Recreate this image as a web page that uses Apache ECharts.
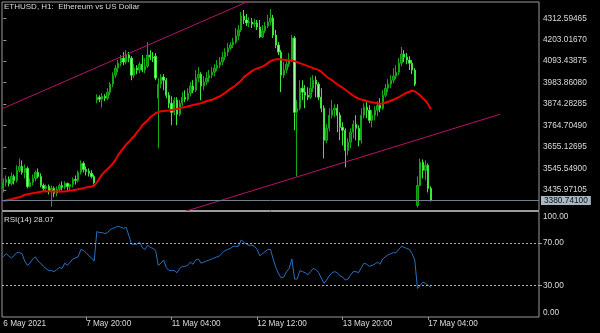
<!DOCTYPE html>
<html><head><meta charset="utf-8">
<script src="https://cdn.jsdelivr.net/npm/echarts@6/dist/echarts.min.js"></script>
<style>html,body{margin:0;padding:0;background:#000;}#c{width:600px;height:333px;}</style>
</head><body><div id="c"></div>
<script>
// ---- data (ETHUSD H1) ----
const opens = [
3443,3473,3489,3468,3504,3484,3535,3555,3525,3545,
3453,3473,3494,3525,3504,3458,3443,3453,3427,3443,
3417,3438,3458,3448,3468,3453,3463,3489,3484,3525,
3571,3540,3530,3520,3504,3894,3909,3899,3914,3904,
3935,3976,4022,4058,4083,4109,4089,4125,4109,4022,
4058,4048,4078,4048,4068,4125,4114,4119,3904,3976,
4012,3996,3919,3878,3832,3894,3822,3878,3909,3899,
3930,3966,3945,4007,4027,3966,3986,4007,4022,4037,
4058,4073,4089,4114,4140,4160,4176,4191,4222,4253,
4324,4304,4289,4294,4283,4289,4268,4217,4248,4273,
4294,4314,4227,4176,4140,4022,4048,4078,4099,4212,
3832,3853,3955,3935,3919,3909,3955,3996,3976,3909,
3853,3689,3750,3817,3843,3853,3817,3755,3740,3637,
3679,3730,3771,3750,3689,3817,3858,3843,3791,3817,
3843,3868,3853,3919,3955,3976,3996,4017,4037,4083,
4130,4114,4099,4083,4048,3355,3458,3576,3535,3561,
3443];
const closes = [
3473,3489,3468,3504,3484,3535,3555,3525,3545,3453,
3473,3494,3525,3504,3458,3443,3453,3427,3443,3417,
3438,3458,3448,3468,3453,3463,3489,3484,3525,3571,
3540,3530,3520,3504,3473,3909,3899,3914,3904,3935,
3976,4022,4058,4083,4109,4089,4125,4109,4022,4058,
4048,4078,4048,4068,4125,4114,4109,4007,3976,4012,
3996,3919,3878,3832,3894,3822,3878,3909,3899,3930,
3966,3945,4007,4027,3966,3986,4007,4022,4037,4058,
4073,4089,4114,4140,4160,4176,4191,4222,4253,4324,
4304,4289,4294,4283,4289,4268,4217,4248,4273,4294,
4314,4227,4176,4140,4022,4048,4078,4099,4212,3832,
3853,3955,3935,3919,3909,3955,3996,3976,3909,3853,
3689,3750,3817,3843,3853,3817,3755,3740,3637,3679,
3730,3771,3750,3689,3817,3858,3843,3791,3817,3843,
3868,3853,3919,3955,3976,3996,4017,4037,4083,4130,
4114,4099,4083,4048,3976,3458,3576,3535,3561,3443,
3380.741];
const highs = [
3494,3509,3504,3525,3514,3561,3596,3586,3566,3555,
3494,3514,3535,3545,3520,3468,3463,3463,3458,3453,
3453,3468,3479,3479,3473,3468,3499,3509,3535,3586,
3581,3555,3545,3535,3514,3924,3919,3930,3925,3955,
3986,4037,4073,4099,4125,4140,4150,4140,4119,4078,
4073,4089,4125,4109,4191,4150,4140,4135,4007,4027,
4027,4007,3935,3914,3909,3909,3894,3935,3945,3955,
3986,3996,4048,4063,4037,4017,4037,4048,4063,4078,
4099,4114,4140,4160,4186,4191,4212,4263,4278,4345,
4355,4335,4319,4314,4309,4304,4304,4278,4294,4330,
4360,4330,4253,4191,4150,4089,4099,4135,4227,4222,
3894,3996,3996,3971,3960,4012,4022,4017,3986,3955,
3868,3771,3853,3894,3873,3873,3832,3781,3750,3699,
3750,3791,3817,3766,3853,3878,3884,3868,3843,3863,
3889,3904,3945,3976,4001,4022,4058,4073,4109,4166,
4150,4135,4119,4099,4058,3504,3596,3591,3586,3571,
3453];
const lows = [
3422,3453,3453,3458,3463,3473,3525,3514,3494,3443,
3448,3458,3479,3494,3448,3427,3422,3412,3350,3397,
3402,3422,3432,3438,3432,3432,3448,3463,3473,3514,
3525,3509,3504,3494,3463,3878,3884,3858,3889,3894,
3919,3960,4007,4037,4068,4073,4078,4089,3996,4007,
4027,4032,4037,4032,4058,4099,4089,3996,3648,3955,
3945,3904,3853,3766,3817,3766,3812,3863,3884,3889,
3914,3930,3935,3986,3894,3945,3971,3986,4007,4017,
4042,4058,4073,4099,4119,4150,4160,4181,4201,4242,
4283,4273,4268,4263,4268,4253,4212,4212,4237,4263,
4278,4212,4160,4125,3935,4007,4032,4063,4089,3740,
3504,3843,3894,3853,3894,3899,3935,3909,3894,3832,
3596,3673,3735,3802,3807,3730,3689,3663,3550,3612,
3648,3699,3689,3658,3673,3802,3802,3776,3755,3791,
3812,3832,3843,3909,3935,3955,3981,4001,4022,4068,
4089,4078,4048,4027,3966,3345,3453,3494,3484,3422,
3376];
const maValues = [
3378.6,3381.1,3384.7,3387.8,3391.4,3395.0,3397.5,3402.6,3410.8,3412.9,
3415.5,3418.0,3420.1,3423.2,3426.2,3428.8,3428.3,3427.8,3427.3,3427.3,
3427.3,3427.3,3427.3,3427.3,3429.3,3431.9,3433.9,3436.5,3439.1,3441.6,
3444.2,3447.3,3449.8,3452.9,3457.0,3473.4,3493.9,3514.4,3529.8,3542.6,
3555.4,3570.8,3588.7,3614.4,3632.3,3650.3,3668.2,3681.0,3696.4,3709.2,
3729.7,3745.1,3765.6,3778.4,3791.2,3806.6,3816.9,3827.1,3833.3,3837.4,
3838.4,3839.9,3841.5,3844.0,3846.6,3849.7,3852.8,3856.3,3858.9,3862.0,
3865.6,3869.2,3872.2,3875.8,3878.4,3883.5,3888.6,3892.2,3896.3,3901.5,
3907.6,3913.2,3922.0,3932.2,3942.5,3951.7,3960.4,3970.7,3983.5,3993.7,
4011.7,4021.9,4032.2,4042.4,4050.1,4056.3,4060.4,4066.5,4073.2,4083.4,
4093.7,4098.8,4102.9,4103.9,4102.4,4100.9,4098.8,4097.8,4096.8,4093.7,
4088.6,4083.4,4078.3,4073.2,4068.1,4062.9,4057.8,4052.7,4047.6,4039.9,
4027.0,4014.2,4004.0,3996.3,3986.0,3975.8,3965.5,3957.8,3947.6,3937.3,
3927.1,3916.8,3908.1,3901.5,3897.4,3893.8,3889.7,3886.1,3883.5,3880.9,
3878.4,3875.8,3877.4,3880.9,3886.1,3891.2,3896.3,3903.0,3909.1,3916.8,
3924.5,3932.2,3937.3,3942.5,3939.9,3929.6,3919.4,3904.0,3891.2,3873.3,
3847.6];
const rsiValues = [
57,60,58,56,58,61,61,60,53,49,
51,55,57,53,51,48,46,44,44,43,
45,47,46,51,49,52,55,56,57,64,
63,61,58,56,53,81,80,80,79,80,
83,84,85,86,85,84,85,77,69,69,
69,71,66,64,68,66,65,63,49,51,
54,47,44,44,44,42,46,48,48,49,
52,50,54,55,51,52,53,54,55,56,
57,58,61,63,64,65,67,67,67,73,
71,69,68,68,67,64,58,60,62,64,
64,55,47,41,37,38,43,46,55,36,
36,44,43,42,40,43,46,45,42,37,
32,35,39,42,43,42,39,38,35,36,
40,43,43,42,47,51,50,48,49,50,
52,50,55,57,59,60,61,61,64,67,
66,65,64,60,54,27,30,33,32,30,
28.07];
const priceTicks = [3435.97105,3545.54900,3655.12695,3764.70490,3874.28285,3983.86080,4093.43875,4203.01670,4312.59465];
const rsiTicks = [0,30,70,100];
const rsiLevels = [30,70];
const xTickIndex = [0,31,63,95,127,159];
const xTickText = ['6 May 2021','7 May 20:00','11 May 04:00','12 May 12:00','13 May 20:00','17 May 04:00'];
const upperTrend = [[-0.5,3850.2],[93.1,4407.9]];
const lowerTrend = [[66.1,3317.0],[185.9,3822.0]];
const lastPrice = 3380.741;
const slotCount = 201;
const priceMin = 3329.9, priceMax = 4396.1;

// ---- chart ----
const chart = echarts.init(document.getElementById('c'), null, {renderer:'canvas'});
const categories = Array.from({length: slotCount}, (_, i) => String(i));
const candleData = opens.map((o, i) => [o, closes[i], lows[i], highs[i]]);
const FONT = 'Liberation Sans';
const TXT = '#dcdcdc';
const FRAME = '#9a9a9a';
const isTick = (idx) => xTickIndex.indexOf(idx) >= 0;
const tStyle = {color: TXT, fontSize: 8, fontWeight: 'normal', fontFamily: FONT};

const option = {
  backgroundColor: '#000',
  animation: false,
  title: [
    {text: 'ETHUSD, H1:  Ethereum vs US Dollar', left: 4, top: 3, padding: 0, textStyle: tStyle},
    {text: 'RSI(14) 28.07', left: 4, top: 215.5, padding: 0, textStyle: tStyle}
  ],
  grid: [
    {left: 2, right: 61, top: 2, height: 208.5, show: true, borderColor: FRAME, borderWidth: 1, backgroundColor: 'transparent'},
    {left: 2, right: 61, top: 211.5, height: 105.5, show: true, borderColor: FRAME, borderWidth: 1, backgroundColor: 'transparent'}
  ],
  xAxis: [
    {type: 'category', gridIndex: 0, data: categories, boundaryGap: true, show: false},
    {type: 'category', gridIndex: 1, data: categories, boundaryGap: true,
     axisLine: {show: false},
     axisTick: {show: true, alignWithLabel: true, interval: (i) => isTick(i) && i > 0, length: 3, lineStyle: {color: FRAME}},
     axisLabel: {interval: (i) => isTick(i), formatter: (v, i) => xTickText[xTickIndex.indexOf(i)] || '',
                 align: 'left', color: TXT, fontSize: 8.2, fontFamily: FONT, margin: 3},
     splitLine: {show: false}},
    {type: 'value', gridIndex: 0, min: -0.5, max: slotCount - 0.5, show: false}
  ],
  yAxis: [
    {type: 'value', gridIndex: 0, position: 'right', min: priceMin, max: priceMax,
     axisLine: {show: false}, splitLine: {show: false}, minorTick: {show: false}, minorSplitLine: {show: false},
     axisTick: {show: true, customValues: priceTicks, length: 3, lineStyle: {color: FRAME}},
     axisLabel: {customValues: priceTicks, formatter: (v) => v.toFixed(5), color: TXT, fontSize: 8.3, fontFamily: FONT, margin: 4}},
    {type: 'value', gridIndex: 1, position: 'right', min: 0, max: 100,
     axisLine: {show: false}, splitLine: {show: false},
     axisTick: {show: true, customValues: [30, 70], length: 3, lineStyle: {color: FRAME}},
     axisLabel: {customValues: rsiTicks, color: TXT, fontSize: 8.3, fontFamily: FONT, margin: 4,
       formatter: (v) => v === 100 ? '{t|100.00}' : (v === 0 ? '{b|0.00}' : '{m|' + v.toFixed(2) + '}'),
       rich: {
         t: {padding: [11, 0, 0, 0], color: TXT, fontSize: 8.3, fontFamily: FONT},
         b: {padding: [0, 0, 9, 0], color: TXT, fontSize: 8.3, fontFamily: FONT},
         m: {color: TXT, fontSize: 8.3, fontFamily: FONT}
       }}}
  ],
  series: [
    {type: 'candlestick', xAxisIndex: 0, yAxisIndex: 0, data: candleData, barWidth: 1.8,
     itemStyle: {color: '#0b7f0b', borderColor: '#14a814', color0: '#9dff9d', borderColor0: '#3be83b', borderWidth: 1},
     markLine: {silent: true, symbol: ['none', 'none'], animation: false,
       data: [{yAxis: lastPrice}],
       lineStyle: {color: '#6f7f8f', width: 1, type: 'solid'},
       label: {show: true, position: 'end', distance: 2, formatter: () => lastPrice.toFixed(5),
               backgroundColor: '#a9b6c3', color: '#111', fontSize: 8.3, fontFamily: FONT, padding: [1, 3, 0, 3]}}},
    {type: 'line', xAxisIndex: 0, yAxisIndex: 0, data: maValues, symbol: 'none', smooth: false,
     lineStyle: {color: '#ee0000', width: 2}, z: 3},
    {type: 'line', xAxisIndex: 2, yAxisIndex: 0, data: upperTrend, symbol: 'none', clip: true,
     lineStyle: {color: '#b8136a', width: 1}, z: 4},
    {type: 'line', xAxisIndex: 2, yAxisIndex: 0, data: lowerTrend, symbol: 'none', clip: true,
     lineStyle: {color: '#b8136a', width: 1}, z: 4},
    {type: 'line', xAxisIndex: 1, yAxisIndex: 1, data: rsiValues, symbol: 'none', smooth: false,
     lineStyle: {color: '#2a6fbf', width: 1},
     markLine: {silent: true, symbol: ['none', 'none'], animation: false,
       data: rsiLevels.map(v => ({yAxis: v})),
       lineStyle: {color: '#b4b4b4', width: 1, type: [2, 2]}, label: {show: false}}}
  ]
};
chart.setOption(option);
</script>
</body></html>
